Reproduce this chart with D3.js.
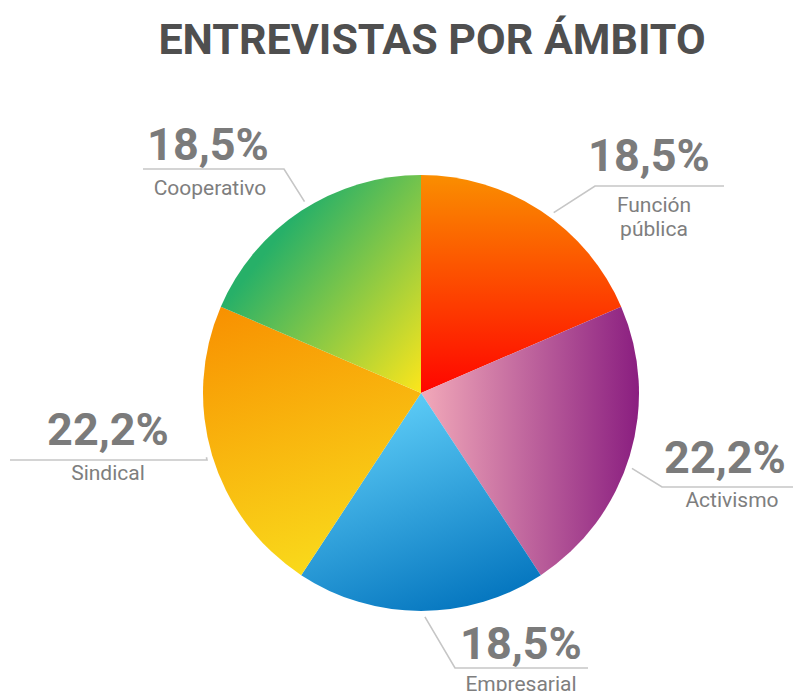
<!DOCTYPE html>
<html>
<head>
<meta charset="utf-8">
<script src="https://cdn.jsdelivr.net/npm/d3@7"></script>
<style>
  html, body { margin: 0; padding: 0; background: #ffffff; }
  svg { display: block; font-family: Roboto, "Noto Sans", sans-serif; }
</style>
</head>
<body>
<svg id="chart" width="794" height="691"></svg>
<script>
// Interview share per field (percent), clockwise from 12 o'clock
const categories = ["Función pública", "Activismo", "Empresarial", "Sindical", "Cooperativo"];
const values = [18.5, 22.2, 18.5, 22.2, 18.5];
const valueLabels = ["18,5%", "22,2%", "18,5%", "22,2%", "18,5%"];
const nameLines = [["Función", "pública"], ["Activismo"], ["Empresarial"], ["Sindical"], ["Cooperativo"]];

// Gradient colours for each slice: [start, end]
const gradientColors = [
  ["#fa8e00", "#ff0500"],
  ["#f2a9b9", "#8a1e80"],
  ["#5ccbf6", "#0576bf"],
  ["#f88f00", "#f9d91b"],
  ["#27b068", "#fde61b"]
];
// Gradient direction per slice, as fractions of the radius relative to the centre
const gradientDirs = [
  [0, -1, 0, 0],
  [0, 0, 1, 0],
  [-0.15, 0.05, 0.2, 1.0],
  [-0.85, -0.45, -0.45, 0.8],
  [-0.75, -0.6, 0, 0]
];

// Label layout: elbow point, far end of the rule, value text centre/baseline,
// name text centre/baseline
const labelLayout = [
  { ex: 595, ey: 186, endX: 724, tx: 649, pctY: 171, nx: 654, nameY: 212 },
  { ex: 662, ey: 487, endX: 793, tx: 725, pctY: 473, nx: 732, nameY: 507 },
  { ex: 455, ey: 668, endX: 588, tx: 521, pctY: 659, nx: 521, nameY: 691 },
  { ex: 207, ey: 460, endX: 10,  tx: 108, pctY: 445, nx: 108, nameY: 480 },
  { ex: 284, ey: 169, endX: 143, tx: 208, pctY: 160, nx: 210, nameY: 195 }
];
const nameLineGap = 24;
// Small angular nudge (degrees) of where each leader line leaves the rim
const leadNudge = [3, 3, -1, 0, 2];

const svg = d3.select("#chart");
const cx = 421, cy = 393, radius = 218;

svg.append("text")
  .attr("x", 432).attr("y", 54)
  .attr("text-anchor", "middle")
  .attr("font-size", 43).attr("font-weight", 700)
  .attr("fill", "#4f4f4f")
  .text("ENTREVISTAS POR ÁMBITO");

const defs = svg.append("defs");
gradientColors.forEach((c, i) => {
  const d = gradientDirs[i];
  // Coordinates are in the slice's own space, whose origin is the pie centre
  const g = defs.append("linearGradient")
    .attr("id", "grad" + i)
    .attr("gradientUnits", "userSpaceOnUse")
    .attr("x1", d[0] * radius).attr("y1", d[1] * radius)
    .attr("x2", d[2] * radius).attr("y2", d[3] * radius);
  g.append("stop").attr("offset", "0%").attr("stop-color", c[0]);
  g.append("stop").attr("offset", "100%").attr("stop-color", c[1]);
});

const pie = d3.pie().sort(null).value(d => d)(values);
const arc = d3.arc().innerRadius(0).outerRadius(radius);

const g = svg.append("g").attr("transform", `translate(${cx},${cy})`);
g.selectAll("path")
  .data(pie)
  .join("path")
  .attr("d", arc)
  .attr("fill", (d, i) => `url(#grad${i})`);

// Leader lines start just outside the rim near each slice's mid angle
const leadR = 224;
pie.forEach((d, i) => {
  const a = (d.startAngle + d.endAngle) / 2 + leadNudge[i] * Math.PI / 180;
  const sx = cx + Math.sin(a) * leadR;
  const sy = cy - Math.cos(a) * leadR;
  const L = labelLayout[i];
  svg.append("polyline")
    .attr("points", `${sx},${sy} ${L.ex},${L.ey} ${L.endX},${L.ey}`)
    .attr("fill", "none")
    .attr("stroke", "#c6c6c6")
    .attr("stroke-width", 1.6);

  svg.append("text")
    .attr("x", L.tx).attr("y", L.pctY)
    .attr("text-anchor", "middle")
    .attr("font-size", 45).attr("font-weight", 700)
    .attr("fill", "#7b7b7b")
    .text(valueLabels[i]);

  nameLines[i].forEach((line, k) => {
    svg.append("text")
      .attr("x", L.nx).attr("y", L.nameY + k * nameLineGap)
      .attr("text-anchor", "middle")
      .attr("font-size", 21)
      .attr("fill", "#7e7e7e")
      .text(line);
  });
});
</script>
</body>
</html>
